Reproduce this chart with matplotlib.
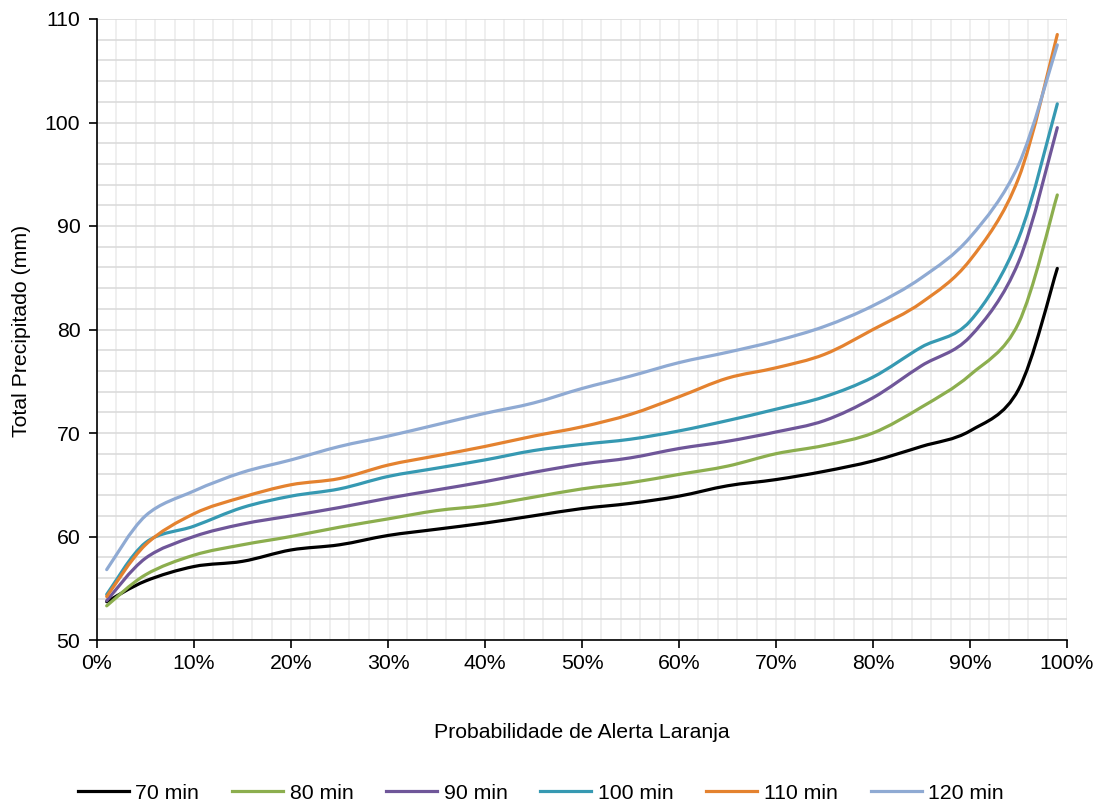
import numpy as np
import matplotlib
matplotlib.use("Agg")
import matplotlib.pyplot as plt
from matplotlib.path import Path
from matplotlib.patches import PathPatch
from matplotlib.lines import Line2D
from matplotlib.ticker import MultipleLocator, FuncFormatter

plt.rcParams['font.family'] = ['Liberation Sans', 'DejaVu Sans']

# Probability of orange alert (%)
prob = [1, 5, 10, 15, 20, 25, 30, 35, 40, 45, 50, 55, 60, 65, 70, 75, 80, 85, 90, 95, 99]

# Total precipitation (mm) for each duration
p70 = [53.7, 55.7, 57.1, 57.6, 58.7, 59.2, 60.1, 60.7, 61.3, 62.0, 62.7, 63.2, 63.9, 64.9, 65.5, 66.3, 67.3, 68.7, 70.2, 74.2, 85.9]
p80 = [53.3, 56.3, 58.2, 59.2, 60.0, 60.9, 61.7, 62.5, 63.0, 63.8, 64.6, 65.2, 66.0, 66.8, 68.0, 68.8, 70.0, 72.5, 75.6, 80.6, 93.0]
p90 = [53.8, 57.9, 60.0, 61.2, 62.0, 62.8, 63.7, 64.5, 65.3, 66.2, 67.0, 67.6, 68.5, 69.2, 70.1, 71.2, 73.4, 76.5, 79.3, 86.5, 99.5]
p100 = [54.4, 59.4, 61.0, 62.8, 63.9, 64.6, 65.8, 66.6, 67.4, 68.3, 68.9, 69.4, 70.2, 71.2, 72.3, 73.5, 75.4, 78.3, 80.8, 88.8, 101.8]
p110 = [54.2, 59.2, 62.2, 63.8, 65.0, 65.6, 66.9, 67.8, 68.7, 69.7, 70.6, 71.8, 73.5, 75.3, 76.3, 77.6, 80.0, 82.6, 86.7, 94.6, 108.5]
p120 = [56.8, 62.0, 64.4, 66.2, 67.4, 68.7, 69.7, 70.8, 71.9, 72.9, 74.3, 75.5, 76.8, 77.8, 78.9, 80.3, 82.3, 85.0, 88.9, 95.9, 107.5]

series = [
    ("70 min", p70, "#000000"),
    ("80 min", p80, "#8cae4e"),
    ("90 min", p90, "#6f5699"),
    ("100 min", p100, "#3699b2"),
    ("110 min", p110, "#e4822f"),
    ("120 min", p120, "#8faad3"),
]

FS = 15.3


def smooth_path(x, y):
    """Cubic Bezier path through the points (Catmull-Rom style tangents)."""
    pts = np.column_stack([np.asarray(x, float), np.asarray(y, float)])
    n = len(pts)
    verts = [pts[0]]
    codes = [Path.MOVETO]
    for i in range(n - 1):
        p0 = pts[i - 1] if i > 0 else pts[i]
        p1 = pts[i]
        p2 = pts[i + 1]
        p3 = pts[i + 2] if i + 2 < n else pts[i + 1]
        c1 = p1 + (p2 - p0) / 6.0
        c2 = p2 - (p3 - p1) / 6.0
        verts += [c1, c2, p2]
        codes += [Path.CURVE4] * 3
    return Path(verts, codes)


fig = plt.figure(figsize=(11.06, 8.05), dpi=100)
ax = fig.add_axes([97 / 1106, 1 - 640 / 805, (1067 - 97) / 1106, (640 - 19) / 805])

ax.set_xlim(0, 100)
ax.set_ylim(50, 110)

# grid
ax.xaxis.set_major_locator(MultipleLocator(10))
ax.xaxis.set_minor_locator(MultipleLocator(2))
ax.yaxis.set_major_locator(MultipleLocator(10))
ax.yaxis.set_minor_locator(MultipleLocator(2))
ax.grid(which='both', axis='x', color='#ebebeb', linewidth=1.1)
ax.grid(which='both', axis='y', color='#d9d9d9', linewidth=1.1)
ax.set_axisbelow(True)

for name, vals, color in series:
    patch = PathPatch(smooth_path(prob, vals), fill=False, edgecolor=color,
                      linewidth=2.3, capstyle='round', joinstyle='round',
                      transform=ax.transData, zorder=3)
    ax.add_patch(patch)

for s in ['top', 'right']:
    ax.spines[s].set_visible(False)
for s in ['left', 'bottom']:
    ax.spines[s].set_color('black')
    ax.spines[s].set_linewidth(1.2)
    ax.spines[s].set_zorder(4)

ax.xaxis.set_major_formatter(FuncFormatter(lambda v, p: f"{int(round(v))}%"))
ax.tick_params(which='major', direction='out', length=6, width=1.2, color='black',
               labelsize=FS, pad=4)
ax.tick_params(axis='y', pad=6)
ax.tick_params(which='minor', length=0)

fig.text(582 / 1106, 1 - 732 / 805, "Probabilidade de Alerta Laranja",
         ha='center', va='center', fontsize=FS)
fig.text(22 / 1106, 1 - 331 / 805, "Total Precipitado (mm)",
         ha='center', va='center', rotation=90, fontsize=FS)

handles = [Line2D([], [], color=c, linewidth=2.3) for _, _, c in series]
labels = [n for n, _, _ in series]
fig.legend(handles, labels, loc='center', bbox_to_anchor=(0.489, 1 - 793 / 805),
           ncol=6, frameon=False, fontsize=FS, handlelength=2.4,
           handletextpad=0.3, columnspacing=1.55)

fig.savefig("out.png", dpi=100)
